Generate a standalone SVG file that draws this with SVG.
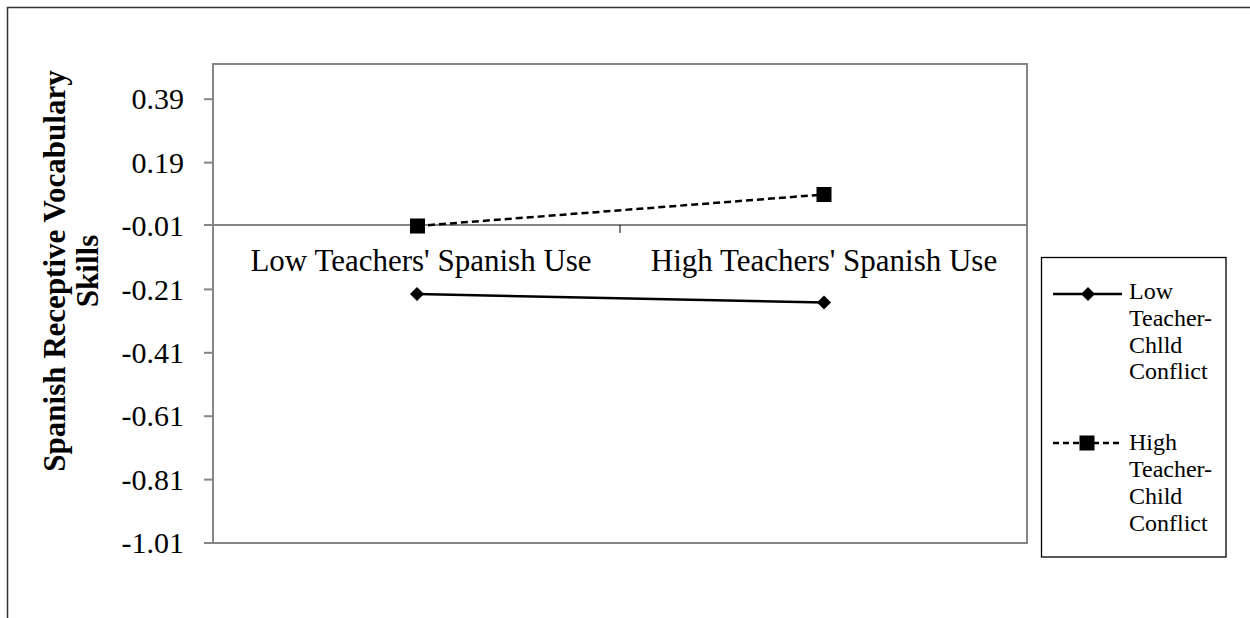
<svg xmlns="http://www.w3.org/2000/svg" width="1250" height="618" viewBox="0 0 1250 618">
<style>
.frame{fill:none;stroke:#333;stroke-width:1.5}
.plot{fill:#fff;stroke:#858585;stroke-width:2}
.axis{stroke:#858585;stroke-width:2}
.tick{stroke:#858585;stroke-width:2}
.ctick{stroke:#000;stroke-width:1}
.tl{font-family:"Liberation Serif","Times New Roman",serif;font-size:30px;fill:#000;text-anchor:end}
.cl{font-family:"Liberation Serif","Times New Roman",serif;font-size:31px;fill:#000;text-anchor:middle}
.yl{font-family:"Liberation Serif","Times New Roman",serif;font-size:31px;font-weight:bold;fill:#000;text-anchor:middle}
.lg{font-family:"Liberation Serif","Times New Roman",serif;font-size:24px;fill:#000}
.solid{fill:none;stroke:#000;stroke-width:2.5}
.dash{fill:none;stroke:#000;stroke-width:2.5;stroke-dasharray:7 4}
.mk{fill:#000}
</style>
<defs>
<path id="dia" d="M0,-7 L7,0 L0,7 L-7,0 Z"/>
<rect id="sq" x="-7.5" y="-7.5" width="15" height="15"/>
</defs>
<g id="outer-frame">
<path class="frame" d="M7.5,618 L7.5,7.5 L1250,7.5"/>
</g>
<g id="plot-area">
<rect class="plot" x="213" y="64" width="814" height="479"/>
</g>
<g id="y-axis">
<line class="tick" x1="204" y1="543" x2="213" y2="543"/>
<line class="tick" x1="204" y1="479.6" x2="213" y2="479.6"/>
<line class="tick" x1="204" y1="416.2" x2="213" y2="416.2"/>
<line class="tick" x1="204" y1="352.8" x2="213" y2="352.8"/>
<line class="tick" x1="204" y1="289.4" x2="213" y2="289.4"/>
<line class="tick" x1="204" y1="225" x2="213" y2="225"/>
<line class="tick" x1="204" y1="162.6" x2="213" y2="162.6"/>
<line class="tick" x1="204" y1="99.2" x2="213" y2="99.2"/>
<text class="tl" x="184" y="109">0.39</text>
<text class="tl" x="184" y="172.5">0.19</text>
<text class="tl" x="184" y="235.5">-0.01</text>
<text class="tl" x="184" y="299.5">-0.21</text>
<text class="tl" x="184" y="362.5">-0.41</text>
<text class="tl" x="184" y="426">-0.61</text>
<text class="tl" x="184" y="489.5">-0.81</text>
<text class="tl" x="184" y="553">-1.01</text>
<text class="yl" transform="translate(65,271) rotate(-90)">Spanish Receptive Vocabulary</text>
<text class="yl" transform="translate(98,271) rotate(-90)">Skills</text>
</g>
<g id="x-axis">
<line class="axis" x1="213" y1="225" x2="1027" y2="225"/>
<line class="ctick" x1="620" y1="225" x2="620" y2="233"/>
<text class="cl" x="421" y="271">Low Teachers' Spanish Use</text>
<text class="cl" x="824" y="271">High Teachers' Spanish Use</text>
</g>
<g id="connectors">
<line class="solid" x1="417" y1="294" x2="824" y2="302.5"/>
<line class="dash" x1="417" y1="226" x2="824" y2="194.5"/>
</g>
<g id="series-low">
<use href="#dia" class="mk" x="417" y="294"/>
<use href="#dia" class="mk" x="824" y="302.5"/>
</g>
<g id="series-high">
<use href="#sq" class="mk" x="417.5" y="226"/>
<use href="#sq" class="mk" x="824" y="194.5"/>
</g>
<g id="legend">
<rect x="1041.5" y="257.5" width="184.5" height="299.5" fill="#fff" stroke="#000" stroke-width="1.3"/>
<line class="solid" x1="1053" y1="294" x2="1122" y2="294"/>
<use href="#dia" class="mk" x="1088" y="294"/>
<text class="lg" x="1129"><tspan x="1129" y="299">Low</tspan><tspan x="1129" y="326">Teacher-</tspan><tspan x="1129" y="353">Chlld</tspan><tspan x="1129" y="379">Conflict</tspan></text>
<line class="dash" x1="1053" y1="443" x2="1123" y2="443" style="stroke-dasharray:6 4"/>
<use href="#sq" class="mk" x="1087" y="443"/>
<text class="lg" x="1129"><tspan x="1129" y="450">High</tspan><tspan x="1129" y="477">Teacher-</tspan><tspan x="1129" y="504">Child</tspan><tspan x="1129" y="531">Conflict</tspan></text>
</g>
</svg>
